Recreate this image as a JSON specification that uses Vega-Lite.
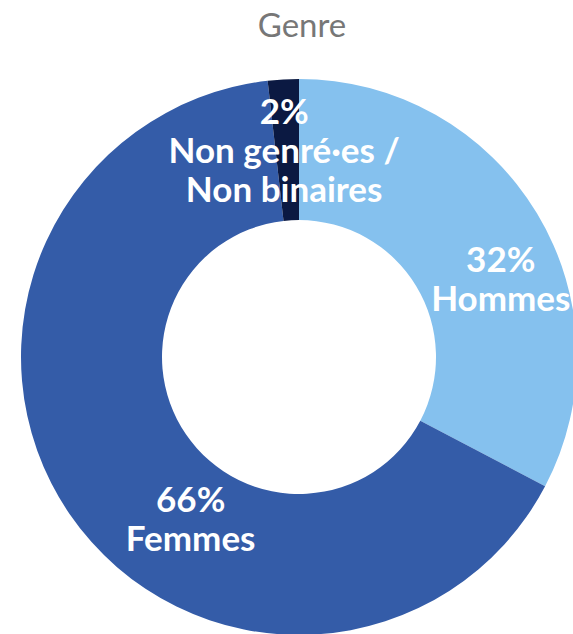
{
  "$schema": "https://vega.github.io/schema/vega-lite/v6.json",
  "autosize": "none",
  "padding": {"left": 0, "top": 78, "right": 0, "bottom": 0},
  "width": 598,
  "height": 558,
  "background": "white",
  "title": {"text": "Genre", "font": "Lato", "fontSize": 33, "fontWeight": "normal", "color": "#777777", "anchor": "middle", "offset": 34, "dx": 3},
  "data": {"values": [
    {"genre": "Hommes", "share": 32.7, "label": "32%\nHommes", "order": 1},
    {"genre": "Femmes", "share": 65.5, "label": "66%\nFemmes", "order": 2},
    {"genre": "Non genré·es / Non binaires", "share": 1.8, "label": "2%\nNon genré·es /\nNon binaires", "order": 3}
  ]},
  "encoding": {
    "theta": {"field": "share", "type": "quantitative", "stack": true},
    "order": {"field": "order", "type": "quantitative"}
  },
  "layer": [
    {
      "mark": {"type": "arc", "outerRadius": 278, "innerRadius": 137},
      "encoding": {
        "color": {"field": "genre", "type": "nominal", "legend": null,
          "scale": {"domain": ["Hommes", "Femmes", "Non genré·es / Non binaires"], "range": ["#85C1EE", "#345CA8", "#0B1942"]}}
      }
    },
    {
      "mark": {"type": "text", "radius": 210, "dx": 22, "dy": 13, "font": "Lato", "fontSize": 35, "fontWeight": "bold", "color": "white", "lineBreak": "\n", "lineHeight": 39, "align": "center", "baseline": "middle"},
      "encoding": {"text": {"condition": {"test": "datum.genre === 'Hommes'", "field": "label"}, "value": ""}}
    },
    {
      "mark": {"type": "text", "radius": 210, "dx": 65, "dy": 25, "font": "Lato", "fontSize": 35, "fontWeight": "bold", "color": "white", "lineBreak": "\n", "lineHeight": 39, "align": "center", "baseline": "middle"},
      "encoding": {"text": {"condition": {"test": "datum.genre === 'Femmes'", "field": "label"}, "value": ""}}
    },
    {
      "mark": {"type": "text", "radius": 210, "dx": -3, "dy": -34, "font": "Lato", "fontSize": 35, "fontWeight": "bold", "color": "white", "lineBreak": "\n", "lineHeight": 39, "align": "center", "baseline": "middle"},
      "encoding": {"text": {"condition": {"test": "datum.order === 3", "field": "label"}, "value": ""}}
    }
  ]
}
